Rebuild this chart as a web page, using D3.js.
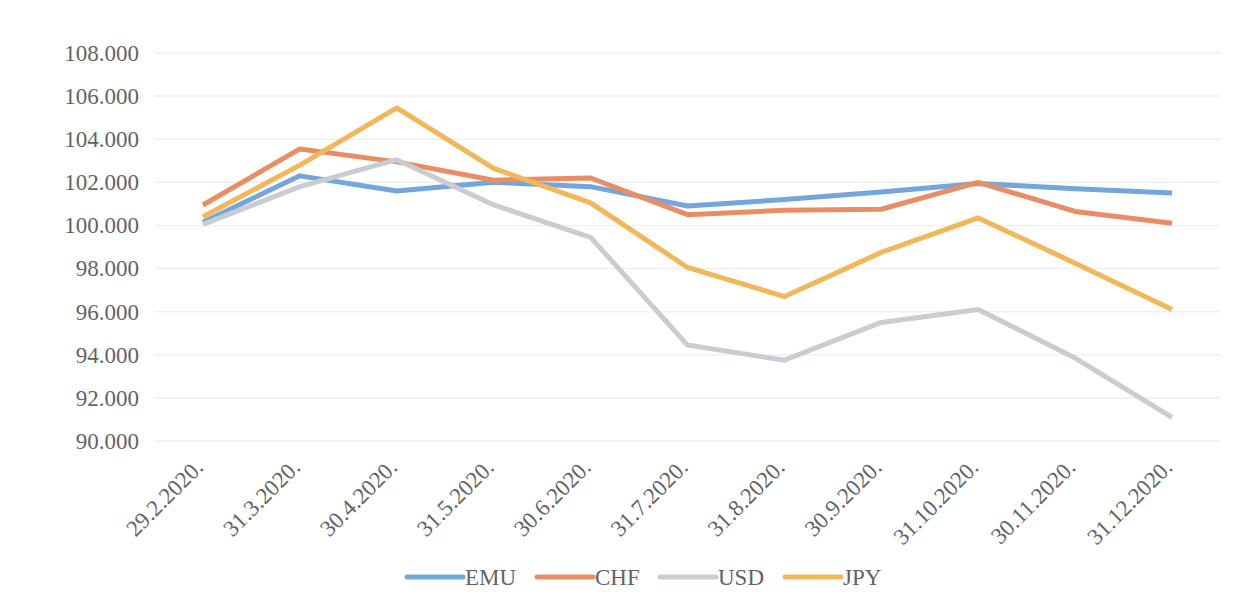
<!DOCTYPE html>
<html>
  <head>
    <meta charset="UTF-8" />
    <style>
      body { margin: 0; background: #fff; }
      svg text { font-family: "Liberation Serif", "Times New Roman", Times, "DejaVu Serif", serif !important; fill: #636363; }
    </style>
  </head>
  <body>
    <svg></svg>
    <script src="https://d3js.org/d3.v7.min.js"></script>
    <script>
      let width = 1257,
        height = 595;

      // data
      var dates = ["29.2.2020.", "31.3.2020.", "30.4.2020.", "31.5.2020.", "30.6.2020.", "31.7.2020.",
        "31.8.2020.", "30.9.2020.", "31.10.2020.", "30.11.2020.", "31.12.2020."];
      var emu = [100.15, 102.3, 101.6, 102.0, 101.8, 100.9, 101.2, 101.55, 101.95, 101.7, 101.5];
      var chf = [100.95, 103.55, 102.95, 102.1, 102.2, 100.5, 100.7, 100.75, 102.0, 100.65, 100.1];
      var usd = [100.05, 101.8, 103.05, 100.95, 99.45, 94.45, 93.75, 95.5, 96.1, 93.85, 91.1];
      var jpy = [100.4, 102.8, 105.45, 102.65, 101.05, 98.05, 96.7, 98.75, 100.35, 98.25, 96.1];
      var yTicks = [90, 92, 94, 96, 98, 100, 102, 104, 106, 108];

      var series = [
        { name: "EMU", values: emu, color: "#72a6dc" },
        { name: "CHF", values: chf, color: "#e98d64" },
        { name: "USD", values: usd, color: "#c9cdd2" },
        { name: "JPY", values: jpy, color: "#f2b758" },
      ];

      let svg = d3.select("svg").attr("width", width).attr("height", height);

      var x = d3.scalePoint().domain(dates).range([154.5, 1220.5]).padding(0.5);
      var y = d3.scaleLinear().domain([90, 108]).range([441, 53]);

      // gridlines
      svg.append("g")
        .selectAll("line")
        .data(yTicks)
        .enter()
        .append("line")
        .attr("x1", 154.5)
        .attr("x2", 1220.5)
        .attr("y1", (d) => y(d))
        .attr("y2", (d) => y(d))
        .attr("stroke", "#edf1f5")
        .attr("stroke-width", 1.5);

      // y axis labels
      var yAxis = d3.axisLeft(y).tickValues(yTicks).tickSize(0).tickPadding(0)
        .tickFormat((d) => d3.format(".3f")(d));
      svg.append("g")
        .attr("transform", "translate(139,0)")
        .call(yAxis)
        .attr("font-family", null)
        .attr("font-size", null)
        .call((g) => g.select(".domain").remove())
        .selectAll("text")
        .style("font-size", "23px")
        .attr("fill", null);

      // x labels rotated
      svg.append("g")
        .selectAll("text")
        .data(dates)
        .enter()
        .append("text")
        .attr("transform", (d) => "translate(" + (x(d) - 4) + ",463) rotate(-45)")
        .attr("text-anchor", "end")
        .attr("dy", "0.35em")
        .style("font-size", "23px")
        .text((d) => d);

      // lines
      var line = d3.line()
        .x((d, i) => x(dates[i]))
        .y((d) => y(d));

      svg.append("g")
        .selectAll("path")
        .data(series)
        .enter()
        .append("path")
        .attr("d", (d) => line(d.values))
        .attr("fill", "none")
        .attr("stroke", (d) => d.color)
        .attr("stroke-width", 5)
        .attr("stroke-linejoin", "round");

      // legend
      var legendX = [407, 537, 660, 785];
      var lg = svg.append("g")
        .selectAll("g")
        .data(series)
        .enter()
        .append("g")
        .attr("transform", (d, i) => "translate(" + legendX[i] + ",577)");
      lg.append("line")
        .attr("x1", 0)
        .attr("x2", 56)
        .attr("stroke", (d) => d.color)
        .attr("stroke-width", 5)
        .attr("stroke-linecap", "round");
      lg.append("text")
        .attr("x", 58)
        .attr("dy", "0.35em")
        .style("font-size", "23px")
        .text((d) => d.name);
    </script>
  </body>
</html>
